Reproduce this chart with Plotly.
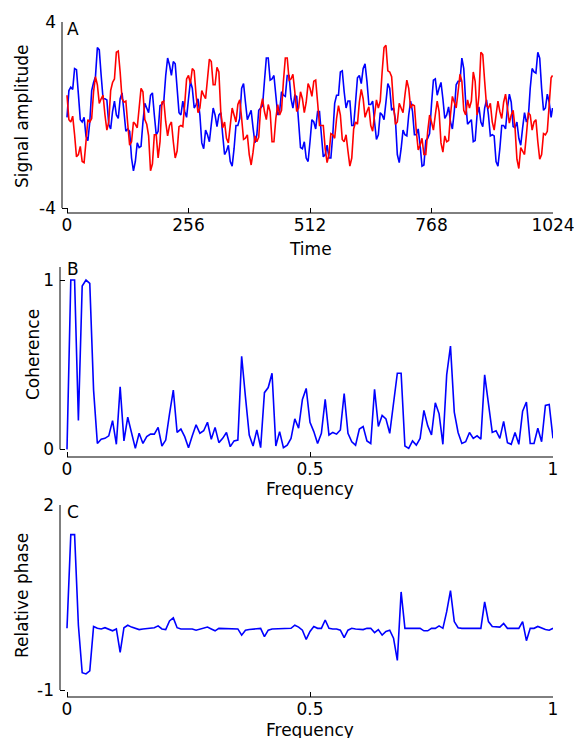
import plotly.graph_objects as go

# ---------------- data ----------------
time = list(range(0, 1024, 4)) + [1023]

signal_blue = [
    -0.1, 1.05, 1.2, 1.1, 2.0, 1.95, 0.9, -0.2, -0.3, -0.1, -0.9, -1.1, -0.3, 1.05, 1.4, 1.65,
    2.9, 2.8, 1.7, 0.7, 0.7, 0.65, -0.4, -0.6, 0.15, 0.6, 0.0, -0.15, 0.7, 0.95, 0.15, -0.7,
    -0.6, -0.7, -1.85, -2.4, -2.0, -1.2, -1.4, -1.35, -0.3, 0.5, 0.3, 0.1, 0.85, 0.95, 0.0, -0.85,
    -0.7, 0.4, 0.45, 0.6, 1.7, 2.45, 2.15, 1.7, 2.3, 2.2, 1.15, 0.1, 0.0, 0.6, 0.15, -0.1,
    0.7, 1.45, 1.15, 0.3, 0.45, 0.7, 0.0, -1.2, -1.45, -0.65, -0.85, -1.15, -0.4, 0.3, 0.0, -0.5,
    0.0, 0.1, -0.85, -1.7, -1.55, -1.3, -2.0, -2.2, -1.45, -0.45, -0.45, -0.15, 1.15, 1.35, 0.55, -0.2,
    0.0, 0.2, -0.55, -1.2, -0.85, 0.2, 0.3, 0.4, 1.45, 2.45, 2.45, 1.5, 1.55, 1.7, 0.85, 0.0,
    0.15, 1.0, 0.85, 0.8, 1.7, 1.7, 0.7, 0.3, 0.85, 0.8, -0.3, -1.4, -1.45, -1.15, -1.85, -2.0,
    -1.15, -0.2, -0.3, -0.6, 0.15, 0.15, -0.85, -1.8, -1.7, -1.3, -1.85, -1.85, -0.85, 0.5, 0.85, 0.85,
    1.85, 1.9, 1.0, 0.3, 0.6, 0.6, -0.45, -0.45, 0.55, 1.6, 1.7, 1.35, 2.0, 2.2, 1.45, 0.45,
    0.45, 0.6, -0.3, -1.05, -0.85, 0.1, 0.0, -0.2, 0.55, 1.35, 1.15, 0.2, 0.3, -0.2, -1.7, -2.05,
    -1.45, -0.65, -0.85, -0.9, 0.0, 0.6, 0.15, -0.85, -0.85, -0.6, -1.3, -2.2, -2.15, -1.1, -1.0, -0.8,
    0.45, 1.5, 1.55, 0.85, 1.15, 1.4, 0.7, -0.15, 0.0, 0.35, -0.3, -0.6, 0.15, 1.3, 1.45, 1.45,
    2.45, 2.0, 0.55, -0.4, -0.3, -0.2, -1.15, -1.1, 0.0, 0.35, -0.3, -0.5, 0.3, 0.65, 0.0, -0.9,
    -0.85, -0.9, -2.0, -2.2, -1.45, -0.45, -0.45, -0.6, 0.3, 0.9, 0.55, -0.5, -0.55, -0.3, -1.0, -1.3,
    -0.55, 0.1, -0.3, -0.1, 1.15, 2.0, 1.85, 1.8, 2.7, 2.45, 1.15, 0.2, 0.3, 0.9, 0.55, -0.1,
    0.3,
]

signal_red = [
    0.85, -0.2, -0.3, -0.05, -0.85, -1.8, -1.7, -1.35, -2.0, -2.05, -1.15, -0.2, -0.3, -0.15, 1.0, 1.65,
    1.3, 0.5, 0.7, 0.85, 0.0, -0.65, -0.3, 1.05, 1.4, 1.55, 2.7, 2.75, 1.85, 0.7, 0.55, 0.6,
    -0.4, -1.3, -1.15, -0.3, -0.4, -0.55, 0.3, 1.15, 1.0, -0.2, -0.4, -0.9, -2.4, -2.1, -0.85, -0.85,
    -1.85, -1.15, 0.55, 0.6, -0.3, -0.9, -0.45, -0.3, -1.15, -1.85, -1.55, -0.5, -0.45, -0.5, 0.45, 1.55,
    1.7, 1.35, 2.0, 1.9, 0.85, 0.1, 0.3, 1.05, 0.85, 0.7, 1.55, 2.4, 2.3, 1.3, 1.3, 2.05,
    1.85, 0.15, -0.55, -0.3, -1.0, -1.2, -0.45, 0.3, 0.0, -0.3, 0.45, 0.65, -0.15, -1.05, -1.0, -0.85,
    -1.7, -2.15, -1.6, -0.9, -1.15, -0.95, 0.3, 0.7, 0.15, -0.2, 0.45, 0.15, -1.15, -1.15, -0.15, 0.45,
    0.0, 0.2, 1.45, 2.45, 2.45, 1.5, 1.55, 1.75, 1.0, 0.15, 0.3, 1.0, 0.7, 0.1, 0.55, 1.35,
    1.15, 0.8, 1.45, 1.5, 0.55, -0.45, -0.45, -0.45, -1.45, -2.05, -1.7, -0.8, -0.85, -1.0, -0.15, 0.4,
    0.0, -1.05, -1.15, -0.85, -1.55, -2.2, -1.85, -0.6, -0.3, -0.4, 0.55, 1.1, 0.7, -0.1, 0.15, 0.35,
    -0.45, -0.7, 0.0, 0.65, 0.3, 0.6, 1.85, 2.9, 3.0, 1.9, 1.85, 1.65, 0.45, -0.4, -0.3, 0.5,
    0.3, 0.1, 0.85, 1.5, 1.15, 0.3, 0.45, 0.4, -0.7, -1.5, -1.3, -1.0, -1.7, -1.7, -0.7, 0.0,
    -0.3, -0.65, 0.0, 0.6, 0.15, -1.2, -1.6, -0.9, -1.15, -1.1, 0.0, 0.8, 0.55, 0.3, 1.0, 1.75,
    1.45, 0.2, 0.0, 0.65, 0.3, 0.6, 1.85, 1.45, 0.0, 0.85, 2.7, 2.6, 1.45, 0.4, 0.3, 0.5,
    -0.3, -0.65, 0.0, 0.6, 0.15, -0.15, 0.55, 0.9, 0.3, -0.35, 0.0, 0.2, -0.55, -1.9, -2.3, -1.4,
    -1.55, -1.7, -0.85, 0.1, 0.0, -0.65, -0.3, -0.2, -1.15, -1.9, -1.7, -0.8, -0.85, -0.7, 0.45, 1.6,
    1.7,
]

freq = [i / 128 for i in range(129)]

coherence = [
    0.0, 1.0, 1.0, 0.17, 0.965, 1.0, 0.98, 0.35, 0.035, 0.06, 0.065, 0.08, 0.17, 0.03, 0.37, 0.05,
    0.19, 0.095, 0.006, 0.095, 0.035, 0.075, 0.09, 0.09, 0.13, 0.02, 0.055, 0.21, 0.35, 0.1, 0.12, 0.075,
    0.01, 0.08, 0.145, 0.095, 0.11, 0.16, 0.06, 0.13, 0.04, 0.065, 0.1, 0.016, 0.05, 0.055, 0.55, 0.31,
    0.085, 0.02, 0.115, 0.01, 0.335, 0.365, 0.45, 0.02, 0.105, 0.01, 0.025, 0.065, 0.18, 0.125, 0.295, 0.36,
    0.16, 0.105, 0.035, 0.095, 0.295, 0.085, 0.1, 0.09, 0.115, 0.33, 0.095, 0.045, 0.025, 0.12, 0.135, 0.05,
    0.035, 0.355, 0.135, 0.2, 0.18, 0.095, 0.27, 0.45, 0.45, 0.02, 0.006, 0.05, 0.025, 0.065, 0.23, 0.14,
    0.085, 0.275, 0.21, 0.03, 0.44, 0.61, 0.22, 0.1, 0.035, 0.045, 0.1, 0.065, 0.08, 0.06, 0.44, 0.27,
    0.1, 0.11, 0.065, 0.165, 0.04, 0.03, 0.1, 0.03, 0.225, 0.28, 0.035, 0.035, 0.125, 0.045, 0.26, 0.265,
    0.065,
]

phase = [
    0.0, 1.52, 1.52, 0.05, -0.72, -0.74, -0.69, 0.03, 0.0, -0.01, 0.01, -0.02, -0.04, -0.01, -0.39, 0.01,
    0.05, 0.02, 0.0, -0.02, -0.01, 0.0, 0.0, 0.01, 0.04, -0.01, -0.02, 0.12, 0.17, 0.01, -0.01, -0.01,
    0.0, -0.01, -0.03, -0.01, 0.01, 0.02, -0.01, -0.04, 0.0, 0.0, 0.0, -0.01, -0.01, -0.01, -0.11, -0.03,
    -0.02, -0.01, -0.01, 0.0, -0.135, -0.03, -0.01, -0.01, -0.01, -0.01, -0.01, 0.0, 0.05, 0.02, -0.03, -0.18,
    -0.05, 0.03, 0.0, 0.0, 0.135, 0.0, -0.01, -0.01, -0.03, -0.15, -0.03, 0.0, -0.01, -0.01, -0.02, 0.0,
    0.0, -0.07, -0.02, -0.11, -0.05, -0.03, -0.16, -0.52, 0.59, 0.0, 0.0, 0.0, 0.0, 0.0, -0.04, -0.04,
    0.0, 0.0, 0.04, 0.0, 0.27, 0.61, 0.11, 0.01, 0.0, 0.0, 0.0, 0.0, 0.0, 0.0, 0.43, 0.11,
    0.03, 0.02, 0.02, 0.08, 0.0, 0.0, 0.0, 0.0, 0.11, -0.2, 0.0, 0.0, 0.03, 0.0, -0.02, -0.03,
    0.0,
]

time_ticks = [0, 256, 512, 768, 1024]
freq_ticks = [0, 0.5, 1]
freq_ticktext = ["0", "0.5", "1"]
amp_ticks = [-4, 4]
amp_ticktext = ["-4", "4"]
coh_ticks = [0, 1]
coh_ticktext = ["0", "1"]
phase_ticks = [-1, 2]
phase_ticktext = ["-1", "2"]

# ---------------- layout helpers ----------------
W, H = 574, 738
FONT = "DejaVu Sans"
FS = 17


def fx(px):
    return px / W


def fy(py):
    return 1 - py / H


fig = go.Figure()
fig.add_trace(go.Scatter(x=time, y=signal_blue, mode="lines", line=dict(color="#0000ff", width=1.6),
                         xaxis="x", yaxis="y", showlegend=False, hoverinfo="skip"))
fig.add_trace(go.Scatter(x=time, y=signal_red, mode="lines", line=dict(color="#ff0000", width=1.6),
                         xaxis="x", yaxis="y", showlegend=False, hoverinfo="skip"))
fig.add_trace(go.Scatter(x=freq, y=coherence, mode="lines", line=dict(color="#0000ff", width=1.6),
                         xaxis="x2", yaxis="y2", showlegend=False, hoverinfo="skip"))
fig.add_trace(go.Scatter(x=freq, y=phase, mode="lines", line=dict(color="#0000ff", width=1.6),
                         xaxis="x3", yaxis="y3", showlegend=False, hoverinfo="skip"))

common = dict(showgrid=False, zeroline=False, showline=False, ticks="inside", ticklen=5,
              tickwidth=1, tickcolor="#000000", tickfont=dict(family=FONT, size=FS, color="#000000"),
              automargin=False)
xcommon = dict(common, ticklabeloverflow="allow")
ycommon = dict(common, ticklabelstandoff=5)

fig.update_layout(
    width=W, height=H,
    margin=dict(l=0, r=0, t=0, b=0),
    paper_bgcolor="white", plot_bgcolor="white",
    font=dict(family=FONT, size=FS, color="#000000"),
    hovermode=False,
    xaxis=dict(domain=[fx(62), fx(553)], range=[-10.53, 1024], anchor="y",
               tickvals=time_ticks, **xcommon),
    yaxis=dict(domain=[fy(213), fy(22)], range=[-4.215, 4], anchor="x",
               tickvals=amp_ticks, ticktext=amp_ticktext, **ycommon),
    xaxis2=dict(domain=[fx(60), fx(553)], range=[-7 / 486, 1], anchor="y2",
                tickvals=freq_ticks, ticktext=freq_ticktext, **xcommon),
    yaxis2=dict(domain=[fy(457), fy(267)], range=[-0.045, 1.077], anchor="x2",
                tickvals=coh_ticks, ticktext=coh_ticktext, **ycommon),
    xaxis3=dict(domain=[fx(60), fx(553)], range=[-7 / 486, 1], anchor="y3",
                tickvals=freq_ticks, ticktext=freq_ticktext, **xcommon),
    yaxis3=dict(domain=[fy(697), fy(505)], range=[-1.1135, 2], anchor="x3",
                tickvals=phase_ticks, ticktext=phase_ticktext, **ycommon),
)

spine = dict(color="#000000", width=1)
shapes = [
    dict(type="line", xref="x domain", x0=0, x1=0, yref="y", y0=-4, y1=4, line=spine),
    dict(type="line", xref="x", x0=0, x1=1024, yref="y domain", y0=0, y1=0, line=spine),
    dict(type="line", xref="x2 domain", x0=0, x1=0, yref="y2", y0=0, y1=1.077, line=spine),
    dict(type="line", xref="x2", x0=0, x1=1, yref="y2 domain", y0=0, y1=0, line=spine),
    dict(type="line", xref="x3 domain", x0=0, x1=0, yref="y3", y0=-1, y1=2, line=spine),
    dict(type="line", xref="x3", x0=0, x1=1, yref="y3 domain", y0=0, y1=0, line=spine),
]
fig.update_layout(shapes=shapes)

ann = []


def label(text, px, py, angle=0, xanchor="center"):
    ann.append(dict(text=text, x=fx(px), y=fy(py), xref="paper", yref="paper",
                    showarrow=False, textangle=angle, xanchor=xanchor, yanchor="middle",
                    font=dict(family=FONT, size=FS, color="#000000")))


label("Signal amplitude", 22, 116, -90)
label("Time", 310, 249)
label("Coherence", 33, 355, -90)
label("Frequency", 310, 489)
label("Relative phase", 22, 596, -90)
label("Frequency", 310, 730)
label("A", 65, 29, xanchor="left")
label("B", 65, 269, xanchor="left")
label("C", 65, 512, xanchor="left")
fig.update_layout(annotations=ann)

# remove the default 8px page margin so the figure fills the window exactly
fig.write_html("out.html",
               config={"displayModeBar": False, "staticPlot": True},
               post_script="document.body.style.margin='0';document.body.style.overflow='hidden';")
